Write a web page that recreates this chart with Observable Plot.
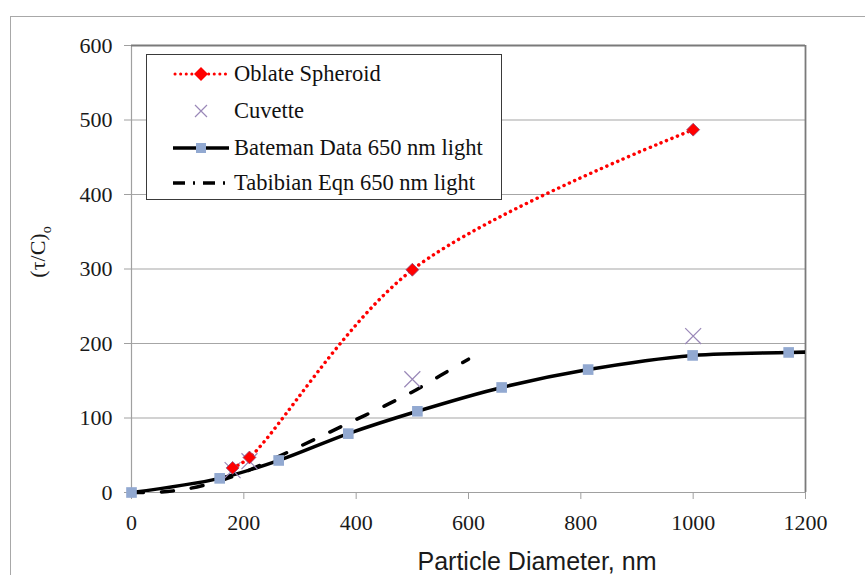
<!DOCTYPE html>
<html>
<head>
<meta charset="utf-8">
<script src="https://cdn.jsdelivr.net/npm/d3@7"></script>
<script src="https://cdn.jsdelivr.net/npm/@observablehq/plot@0.6"></script>
<style>
  html, body { margin: 0; padding: 0; background: #fff; overflow: hidden; }
  #wrap { position: relative; width: 865px; height: 575px; overflow: hidden; }
  #border { position: absolute; left: 10px; top: 16px; width: 900px; height: 620px; border: 1px solid #a8a8a8; box-sizing: border-box; }
  #chart { position: absolute; left: 0; top: 0; }
  .xtitle { position: absolute; font-family: "Liberation Sans", Arial, sans-serif; font-size: 25px; color: #1a1a1a; white-space: nowrap; transform: translate(-50%, -50%); }
  .ytitle { position: absolute; font-family: "Liberation Serif", serif; font-size: 22px; color: #1a1a1a; white-space: nowrap; transform: translate(-50%, -50%) rotate(-90deg); }
  #legend { position: absolute; left: 146px; top: 54px; width: 356px; height: 146px; background: #fff; border: 1px solid #3a3a3a; box-sizing: border-box; }
  .lrow { position: absolute; left: 0; height: 30px; display: flex; align-items: center; }
  .lrow svg { margin-left: 26px; }
  .lrow span { margin-left: 5px; font-family: "Liberation Serif", serif; font-size: 22.5px; color: #111; white-space: nowrap; }
</style>
</head>
<body>
<div id="wrap">
  <div id="border"></div>
  <div id="chart"></div>
  <div class="ytitle" style="left:40px; top:252px;">(τ/C)<sub style="font-size:14px;">o</sub></div>
  <div class="xtitle" style="left:537px; top:561px;">Particle Diameter, nm</div>
  <div id="legend"></div>
</div>
<script>
// ---- data ----
const xTicks = [0, 200, 400, 600, 800, 1000, 1200];
const yTicks = [0, 100, 200, 300, 400, 500, 600];
const gridY = [100, 200, 300, 400, 500];

const seriesNames = ["Oblate Spheroid", "Cuvette", "Bateman Data 650 nm light", "Tabibian Eqn 650 nm light"];

const oblateX = [180, 210, 500, 1000];
const oblateY = [33, 47, 299, 487];

const cuvetteX = [180, 210, 500, 1000];
const cuvetteY = [30, 42, 152, 210];

const batemanX = [0, 157, 262, 386, 509, 659, 813, 999, 1170, 1330];
const batemanY = [0, 19, 43, 79, 109, 141, 165, 184, 188, 190];

const tabibianX = [0, 50, 100, 150, 200, 250, 300, 350, 400, 450, 500, 550, 600];
const tabibianY = [0, 0.5, 5, 14, 27, 44, 62, 80, 98, 116, 135, 157, 179];

// ---- build tables ----
const zip = (xs, ys) => xs.map((x, i) => ({x, y: ys[i]}));
const oblate = zip(oblateX, oblateY);
const cuvette = zip(cuvetteX, cuvetteY);
const bateman = zip(batemanX, batemanY);
const batemanVisible = bateman.filter(d => d.x <= 1200);
const tabibian = zip(tabibianX, tabibianY);

const RED = "#ff0000";
const BLUE = "#92a9d1";
const PURPLE = "#9a88b8";

const chart = Plot.plot({
  width: 865,
  height: 575,
  marginLeft: 131,
  marginRight: 60,
  marginTop: 45,
  marginBottom: 83,
  style: {fontFamily: "Liberation Serif, serif", fontSize: "22px", color: "#1a1a1a", background: "transparent"},
  x: {domain: [0, 1200], axis: null},
  y: {domain: [0, 600], axis: null},
  marks: [
    Plot.ruleY(gridY, {stroke: "#a6a6a6", strokeWidth: 1.2}),
    Plot.axisX(xTicks, {tickSize: 7, tickPadding: 15, stroke: "#a0a0a0", label: null, fill: "#1a1a1a", tickFormat: d => String(d)}),
    Plot.axisY(yTicks, {tickSize: 7, tickPadding: 12, stroke: "#a0a0a0", label: null, fill: "#1a1a1a", tickFormat: d => String(d)}),
    Plot.ruleY([0], {stroke: "#a0a0a0", strokeWidth: 1.2}),
    Plot.ruleX([0], {stroke: "#a0a0a0", strokeWidth: 1.2}),
    Plot.ruleY([600], {stroke: "#7a7a7a", strokeWidth: 1.8}),
    Plot.ruleX([1200], {stroke: "#7a7a7a", strokeWidth: 1.8}),
    Plot.line(bateman, {x: "x", y: "y", curve: "catmull-rom", stroke: "#000", strokeWidth: 3.5, clip: true}),
    Plot.line(tabibian, {x: "x", y: "y", curve: "catmull-rom", stroke: "#000", strokeWidth: 3.5, strokeDasharray: "12,18", strokeLinecap: "round"}),
    Plot.dot(batemanVisible, {x: "x", y: "y", symbol: "square", r: 6, fill: BLUE, stroke: "none"}),
    Plot.dot(cuvette, {x: "x", y: "y", symbol: "times", r: 7.3, stroke: PURPLE, strokeWidth: 1.2}),
    Plot.line(oblate, {x: "x", y: "y", curve: "catmull-rom", stroke: RED, strokeWidth: 3.5, strokeDasharray: "0.1,5.8", strokeLinecap: "round"}),
    Plot.dot(oblate, {x: "x", y: "y", symbol: "diamond2", r: 5.8, fill: RED, stroke: "#8a4a7a", strokeWidth: 0.8})
  ]
});
document.getElementById("chart").appendChild(chart);

// ---- legend ----
const legendSymbols = [
  `<svg width="56" height="20"><line x1="2" y1="10" x2="54" y2="10" stroke="${RED}" stroke-width="3" stroke-dasharray="0.1,5.5" stroke-linecap="round"/><path d="M28,3 L35,10 L28,17 L21,10 Z" fill="${RED}"/></svg>`,
  `<svg width="56" height="20"><path d="M22,4 L34,16 M34,4 L22,16" stroke="${PURPLE}" stroke-width="1.2"/></svg>`,
  `<svg width="56" height="20"><line x1="0" y1="10" x2="56" y2="10" stroke="#000" stroke-width="3.5"/><rect x="23" y="5" width="10" height="10" fill="${BLUE}"/></svg>`,
  `<svg width="56" height="20"><line x1="0" y1="10" x2="56" y2="10" stroke="#000" stroke-width="3.5" stroke-dasharray="12,8,2,8"/></svg>`
];
const rowCenters = [19, 56, 93, 128];
const legend = document.getElementById("legend");
seriesNames.forEach((name, i) => {
  const row = document.createElement("div");
  row.className = "lrow";
  row.style.top = (rowCenters[i] - 15) + "px";
  row.innerHTML = legendSymbols[i] + `<span>${name}</span>`;
  legend.appendChild(row);
});
</script>
</body>
</html>
